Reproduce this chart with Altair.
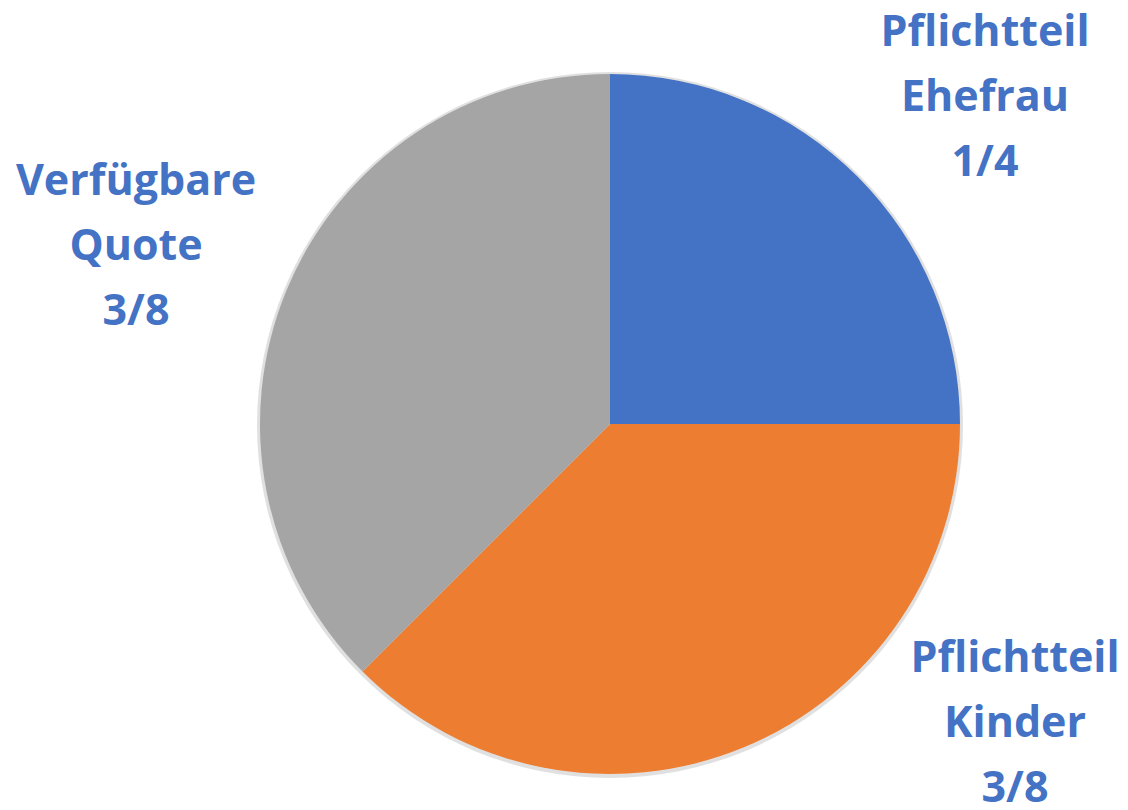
import altair as alt
import pandas as pd

categories = ["Pflichtteil Ehefrau", "Pflichtteil Kinder", "Verfügbare Quote"]
shares = [0.25, 0.375, 0.375]
colors = ["#4472C4", "#ED7D31", "#A5A5A5"]
label_lines = [["Pflichtteil", "Ehefrau", "1/4"],
               ["Pflichtteil", "Kinder", "3/8"],
               ["Verfügbare", "Quote", "3/8"]]

df = pd.DataFrame({"cat": categories, "share": shares, "idx": list(range(len(categories)))})

shadow = alt.Chart(pd.DataFrame({"v": [1]})).mark_arc(
    outerRadius=353, x=602, y=417, color="#000000", opacity=0.12
).encode(theta=alt.Theta("v:Q"))

pie = alt.Chart(df).mark_arc(outerRadius=350, x=602, y=416).encode(
    theta=alt.Theta("share:Q", stack=True),
    order=alt.Order("idx:Q"),
    color=alt.Color("cat:N", scale=alt.Scale(domain=categories, range=colors), legend=None),
)

label_pos = [(977, 38), (1007, 664), (128, 187)]
layers = [shadow, pie]
for lines, (lx, ly) in zip(label_lines, label_pos):
    t = alt.Chart(pd.DataFrame({"t": [lines]})).mark_text(
        font="Open Sans", fontWeight="bold", fontSize=43, color="#4472C4",
        align="center", baseline="alphabetic", lineHeight=65,
    ).encode(text="t", x=alt.value(lx), y=alt.value(ly))
    layers.append(t)

chart = alt.layer(*layers).properties(
    width=1112, height=796, padding=0, autosize=alt.AutoSizeParams(type="none")
).configure_view(stroke=None)

chart.save("out.html", embed_options={"renderer": "svg", "actions": False})
